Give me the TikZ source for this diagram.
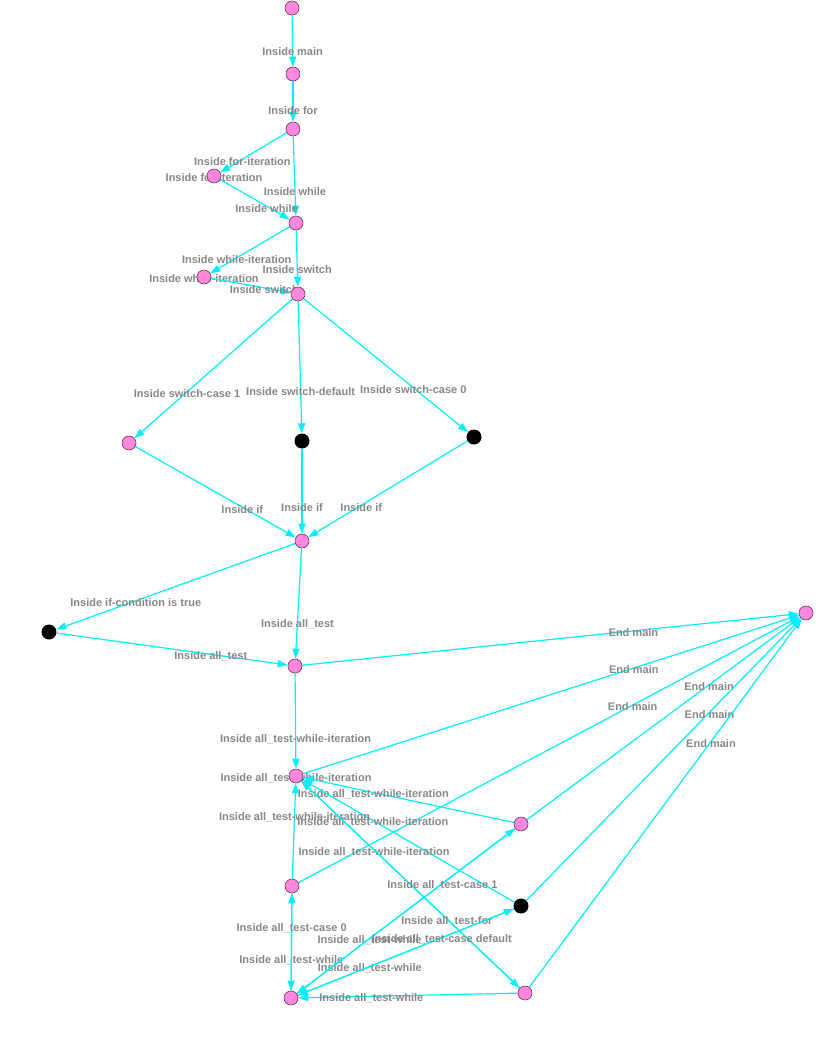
\documentclass[tikz,border=0pt]{standalone}
\usepackage{fontspec}
\setmainfont{Liberation Sans}
\usepackage{tikz}
\usetikzlibrary{arrows.meta,backgrounds}
\usepackage{xcolor}
\definecolor{flowcyan}{RGB}{0,240,250}
\definecolor{statepink}{RGB}{255,136,220}
\definecolor{stateedge}{RGB}{110,50,100}
\definecolor{labelgray}{RGB}{135,135,135}

\begin{document}
\begin{tikzpicture}[x=1pt, y=-1pt,
    state/.style={circle, draw=stateedge, fill=statepink, line width=0.6pt, minimum size=14pt, inner sep=0pt},
    sink/.style={circle, fill=black, minimum size=15pt, inner sep=0pt},
    edge/.style={flowcyan, line width=1.2pt, -{Triangle[length=10pt,width=7pt]}},
    lbl/.style={font=\fontsize{11}{13}\selectfont\bfseries, text=labelgray, inner sep=0pt, pos=0.667, yshift=-2pt},
    looplbl/.style={font=\fontsize{11}{13}\selectfont\bfseries, text=labelgray, inner sep=0pt, yshift=-2pt}]
    \useasboundingbox (0,0) rectangle (833,1045);

    % states
    \node[state] (start)      at (292,8)   {};
    \node[state] (inmain)     at (293,74)  {};
    \node[state] (infor)      at (293,129) {};
    \node[state] (foriter)    at (214,176) {};
    \node[state] (inwhile)    at (296,223) {};
    \node[state] (whileiter)  at (204,277) {};
    \node[state] (inswitch)   at (298,294) {};
    \node[state] (caseone)    at (129,443) {};
    \node[sink]  (casedef)    at (302,441) {};
    \node[sink]  (casezero)   at (474,437) {};
    \node[state] (inif)       at (302,541) {};
    \node[sink]  (iftrue)     at (49,632)  {};
    \node[state] (alltest)    at (295,666) {};
    \node[state] (endmain)    at (806,613) {};
    \node[state] (atwiter)    at (296,776) {};
    \node[state] (atcaseone)  at (521,824) {};
    \node[state] (atcasezero) at (292,886) {};
    \node[sink]  (atcasedef)  at (521,906) {};
    \node[state] (atwhile)    at (291,998) {};
    \node[state] (atfor)      at (525,993) {};

    \begin{scope}[on background layer]
        % self loops only show their labels
        \node[looplbl] (foriterlbl)   at (foriter)   {Inside for-iteration};
        \node[looplbl] (whileiterlbl) at (whileiter) {Inside while-iteration};
        \node[looplbl] (atwiterlbl)   at (atwiter)   {Inside all\_test-while-iteration};

        \foreach \a/\b/\t in {start/inmain/Inside main,
                              inmain/infor/Inside for,
                              infor/foriter/Inside for-iteration,
                              infor/inwhile/Inside while,
                              foriter/inwhile/Inside while,
                              inwhile/whileiter/Inside while-iteration,
                              inwhile/inswitch/Inside switch,
                              whileiter/inswitch/Inside switch,
                              inswitch/caseone/Inside switch-case 1,
                              inswitch/casedef/Inside switch-default,
                              inswitch/casezero/Inside switch-case 0,
                              caseone/inif/Inside if,
                              casedef/inif/Inside if,
                              casezero/inif/Inside if,
                              inif/iftrue/Inside if-condition is true,
                              inif/alltest/Inside all\_test,
                              iftrue/alltest/Inside all\_test} {
            \draw[edge] (\a) -- node[lbl] {\t} (\b);
        }

        \foreach \a in {alltest,atwiter,atcasezero,atcaseone,atcasedef,atfor} {
            \draw[edge] (\a) -- node[lbl] {End main} (endmain);
        }

        \foreach \a in {alltest,atcaseone,atcasedef,atcasezero,atfor} {
            \draw[edge] (\a) -- node[lbl] {Inside all\_test-while-iteration} (atwiter);
        }

        \foreach \a in {atcasezero,atcaseone,atcasedef,atfor} {
            \draw[edge] (\a) -- node[lbl] {Inside all\_test-while} (atwhile);
        }

        \draw[edge] (atwiter) -- node[lbl] {Inside all\_test-for} (atfor);
        \draw[edge] (atwhile) -- node[lbl] {Inside all\_test-case 0} (atcasezero);
        \draw[edge] (atwhile) -- node[lbl] {Inside all\_test-case 1} (atcaseone);
        \draw[edge] (atwhile) -- node[lbl] {Inside all\_test-case default} (atcasedef);
    \end{scope}
\end{tikzpicture}
\end{document}
